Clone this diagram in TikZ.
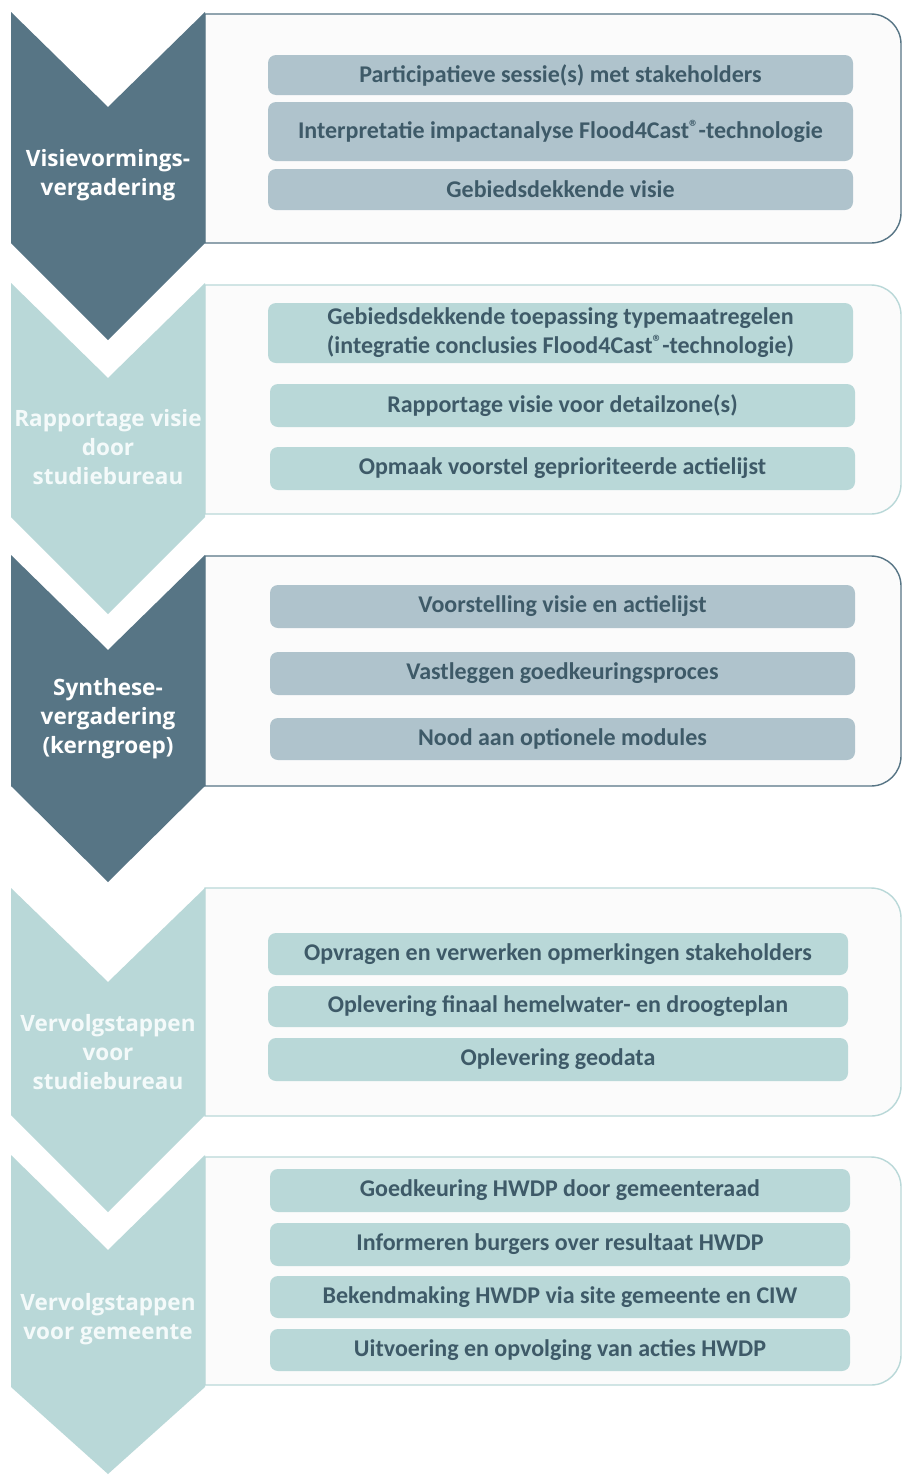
\documentclass[tikz,border=0pt]{standalone}
\usepackage{fontspec}
\setmainfont{Carlito}
\newfontfamily\chevfont{Open Sans}
\definecolor{darkc}{HTML}{577585}
\definecolor{lightc}{HTML}{B9D8D8}
\definecolor{grayb}{HTML}{AFC3CC}
\definecolor{panelf}{HTML}{FBFBFB}
\definecolor{txtc}{HTML}{3E5A68}
\definecolor{lighttxt}{HTML}{F4FAFA}
\tikzset{
  panelbox/.style={fill=panelf, line width=1.4pt},
  chevdark/.style={fill=darkc, draw=none},
  chevlight/.style={fill=lightc, draw=none},
  chevtext/.style={align=center, font=\chevfont\bfseries\fontsize{22.5}{29}\selectfont, text=white},
  chevtextlight/.style={chevtext, text=lighttxt},
  itembox/.style={rounded corners=8pt, inner sep=0pt, align=center,
     font=\bfseries\fontsize{24}{29}\selectfont, text=txtc},
  itemgray/.style={itembox, fill=grayb},
  itemlight/.style={itembox, fill=lightc},
}
\newcommand{\rg}{\raisebox{0.22em}{\fontsize{19}{19}\selectfont ®}}
\begin{document}
\begin{tikzpicture}[x=1pt,y=-1pt]
\useasboundingbox (0,0) rectangle (903,1475);
\fill[white] (0,0) rectangle (903,1475);
% panels
\draw[panelbox, draw=darkc] (205,14) [rounded corners=30pt] -- (901,14) -- (901,243) [sharp corners] -- (205,243) -- cycle;
\draw[panelbox, draw=lightc] (205,285) [rounded corners=30pt] -- (901,285) -- (901,514) [sharp corners] -- (205,514) -- cycle;
\draw[panelbox, draw=darkc] (205,556) [rounded corners=30pt] -- (901,556) -- (901,786) [sharp corners] -- (205,786) -- cycle;
\draw[panelbox, draw=lightc] (205,888) [rounded corners=30pt] -- (901,888) -- (901,1116) [sharp corners] -- (205,1116) -- cycle;
\draw[panelbox, draw=lightc] (205,1157) [rounded corners=30pt] -- (901,1157) -- (901,1385) [sharp corners] -- (205,1385) -- cycle;
% chevrons
\fill[chevdark] (11,12) -- (108,107) -- (205,12) -- (205,243) -- (108,340) -- (11,243) -- cycle;
\fill[chevlight] (11,283) -- (108,378) -- (205,283) -- (205,517) -- (108,614) -- (11,517) -- cycle;
\fill[chevdark] (11,555) -- (108,650) -- (205,555) -- (205,786) -- (108,882) -- (11,786) -- cycle;
\fill[chevlight] (11,888) -- (108,982) -- (205,888) -- (205,1115) -- (108,1212) -- (11,1115) -- cycle;
\fill[chevlight] (11,1155) -- (108,1250) -- (205,1155) -- (205,1387) -- (108,1474) -- (11,1387) -- cycle;
% chevron labels
\node[chevtext] (c1) at (108,175) {Visievormings-\\vergadering};
\node[chevtextlight] (c2) at (108,447) {Rapportage visie\\door\\studiebureau};
\node[chevtext] (c3) at (108,719) {Synthese-\\vergadering\\(kerngroep)};
\node[chevtextlight] (c4) at (108,1052) {Vervolgstappen\\voor\\studiebureau};
\node[chevtextlight] (c5) at (108,1319) {Vervolgstappen\\voor gemeente};
% panel 1 items
\node[itemgray, minimum width=585pt, minimum height=40pt] (p1a) at (560.5,75) {Participatieve sessie(s) met stakeholders};
\node[itemgray, minimum width=585pt, minimum height=59pt] (p1b) at (560.5,131.5) {Interpretatie impactanalyse Flood4Cast\rg-technologie};
\node[itemgray, minimum width=585pt, minimum height=41pt] (p1c) at (560.5,189.5) {Gebiedsdekkende visie};
% panel 2 items
\node[itemlight, minimum width=585pt, minimum height=60pt] (p2a) at (560.5,333) {Gebiedsdekkende toepassing typemaatregelen\\(integratie conclusies Flood4Cast\rg-technologie)};
\node[itemlight, minimum width=585pt, minimum height=43pt] (p2b) at (562.5,405.5) {Rapportage visie voor detailzone(s)};
\node[itemlight, minimum width=585pt, minimum height=43pt] (p2c) at (562.5,468.5) {Opmaak voorstel geprioriteerde actielijst};
% panel 3 items
\node[itemgray, minimum width=585pt, minimum height=43pt] (p3a) at (562.5,606.5) {Voorstelling visie en actielijst};
\node[itemgray, minimum width=585pt, minimum height=43pt] (p3b) at (562.5,673.5) {Vastleggen goedkeuringsproces};
\node[itemgray, minimum width=585pt, minimum height=42pt] (p3c) at (562.5,739) {Nood aan optionele modules};
% panel 4 items
\node[itemlight, minimum width=580pt, minimum height=42pt] (p4a) at (558,954) {Opvragen en verwerken opmerkingen stakeholders};
\node[itemlight, minimum width=580pt, minimum height=41pt] (p4b) at (558,1006.5) {Oplevering finaal hemelwater- en droogteplan};
\node[itemlight, minimum width=580pt, minimum height=43pt] (p4c) at (558,1059.5) {Oplevering geodata};
% panel 5 items
\node[itemlight, minimum width=580pt, minimum height=43pt] (p5a) at (560,1190.5) {Goedkeuring HWDP door gemeenteraad};
\node[itemlight, minimum width=580pt, minimum height=43pt] (p5b) at (560,1244.5) {Informeren burgers over resultaat HWDP};
\node[itemlight, minimum width=580pt, minimum height=42pt] (p5c) at (560,1297) {Bekendmaking HWDP via site gemeente en CIW};
\node[itemlight, minimum width=580pt, minimum height=42pt] (p5d) at (560,1350) {Uitvoering en opvolging van acties HWDP};
\end{tikzpicture}
\end{document}
